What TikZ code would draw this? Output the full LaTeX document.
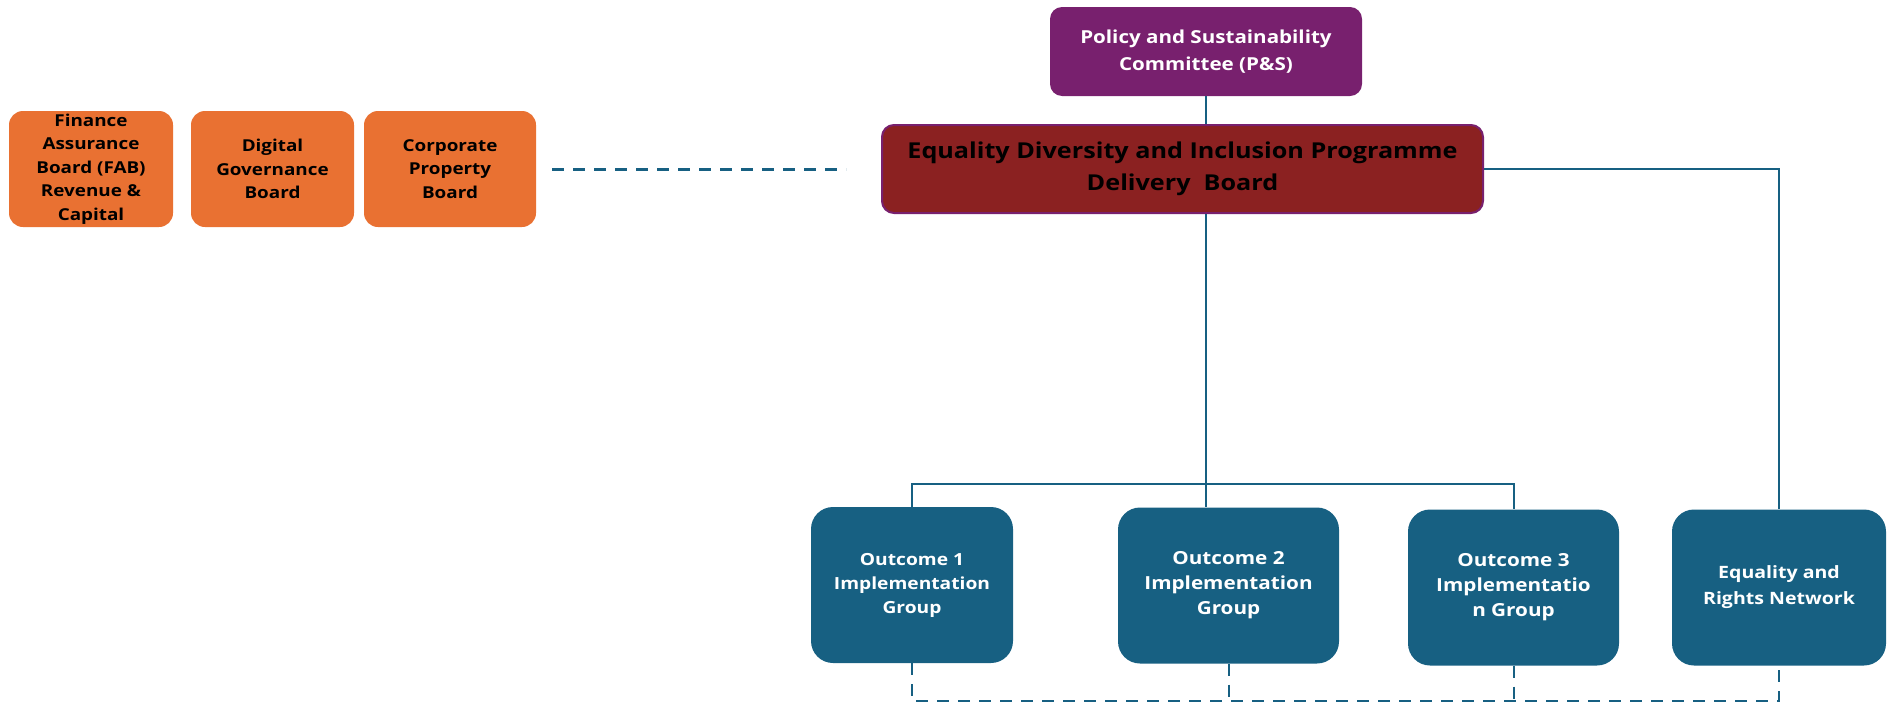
\documentclass[tikz,border=0pt]{standalone}
\usepackage{fontspec}
\setmainfont{Open Sans}[FakeStretch=1.15]
\definecolor{boardorange}{HTML}{E97132}
\definecolor{pspurple}{HTML}{78206E}
\definecolor{edired}{HTML}{8B2121}
\definecolor{groupteal}{HTML}{176082}

\begin{document}
\begin{tikzpicture}[x=1pt,y=-1pt,
  box/.style={rounded corners=14pt,inner sep=0pt,align=center},
  subboard/.style={box,fill=boardorange,minimum height=116pt,
    font=\bfseries\fontsize{16.4}{23.5}\selectfont},
  group/.style={box,fill=groupteal,text=white,rounded corners=22pt,
    minimum height=156pt},
  link/.style={draw=groupteal,line width=2pt},
  dashlink/.style={link,dash pattern=on 12pt off 9pt}]
  \useasboundingbox (0,0) rectangle (1887,704);

  % boards on the left
  \node[subboard,minimum width=164pt] (fab) at (91,169)
    {Finance\\Assurance\\Board (FAB)\\Revenue \&\\Capital};
  \node[subboard,minimum width=163pt] (dgb) at (272.5,169)
    {Digital\\Governance\\Board};
  \node[subboard,minimum width=172pt] (cpb) at (450,169)
    {Corporate\\Property\\Board};

  % committee and programme board
  \node[box,fill=pspurple,text=white,rounded corners=12pt,
    minimum width=312pt,minimum height=89pt,
    font=\bfseries\fontsize{17.9}{27}\selectfont] (ps) at (1206,51.5)
    {Policy and Sustainability\\Committee (P\&S)};
  \node[box,fill=edired,draw=pspurple,line width=2pt,rounded corners=12pt,
    minimum width=601pt,minimum height=88pt,
    font=\bfseries\fontsize{21.9}{32}\selectfont] (edi) at (1182.5,169)
    {Equality Diversity and Inclusion Programme\\Delivery\ \ Board};

  % groups
  \node[group,minimum width=202pt,font=\bfseries\fontsize{16.7}{24}\selectfont]
    (out1) at (912,585) {Outcome 1\\Implementation\\Group};
  \node[group,minimum width=221pt,font=\bfseries\fontsize{18}{25}\selectfont]
    (out2) at (1228.5,585.5) {Outcome 2\\Implementation\\Group};
  \node[group,minimum width=211pt,font=\bfseries\fontsize{18}{25}\selectfont]
    (out3) at (1513.5,587.5) {Outcome 3\\Implementatio\\n Group};
  \node[group,minimum width=214pt,font=\bfseries\fontsize{17}{26}\selectfont]
    (ern) at (1779,587.5) {Equality and\\Rights Network};

  \coordinate (bus) at (0,484);
  \coordinate (base) at (0,701);
  \coordinate (dl) at (552,169);
  \coordinate (dr) at (846,169);

  \draw[link] (ps.south) -- (ps.south |- edi.north);
  \draw[link] (ps.south |- edi.south) -- (ps.south |- out2.north);
  \draw[link] (out1.north) -- (out1.north |- bus) -- (out3.north |- bus)
    -- (out3.north);
  \draw[link] (edi.east) -| (ern.north);

  \draw[dashlink,line width=3pt] (dl) -- (dr);
  \draw[dashlink] (out1.south) -- (out1.south |- base) -- (ern.south |- base)
    -- (ern.south);
  \draw[dashlink] (out2.south) -- (out2.south |- base);
  \draw[dashlink] (out3.south) -- (out3.south |- base);
\end{tikzpicture}
\end{document}
